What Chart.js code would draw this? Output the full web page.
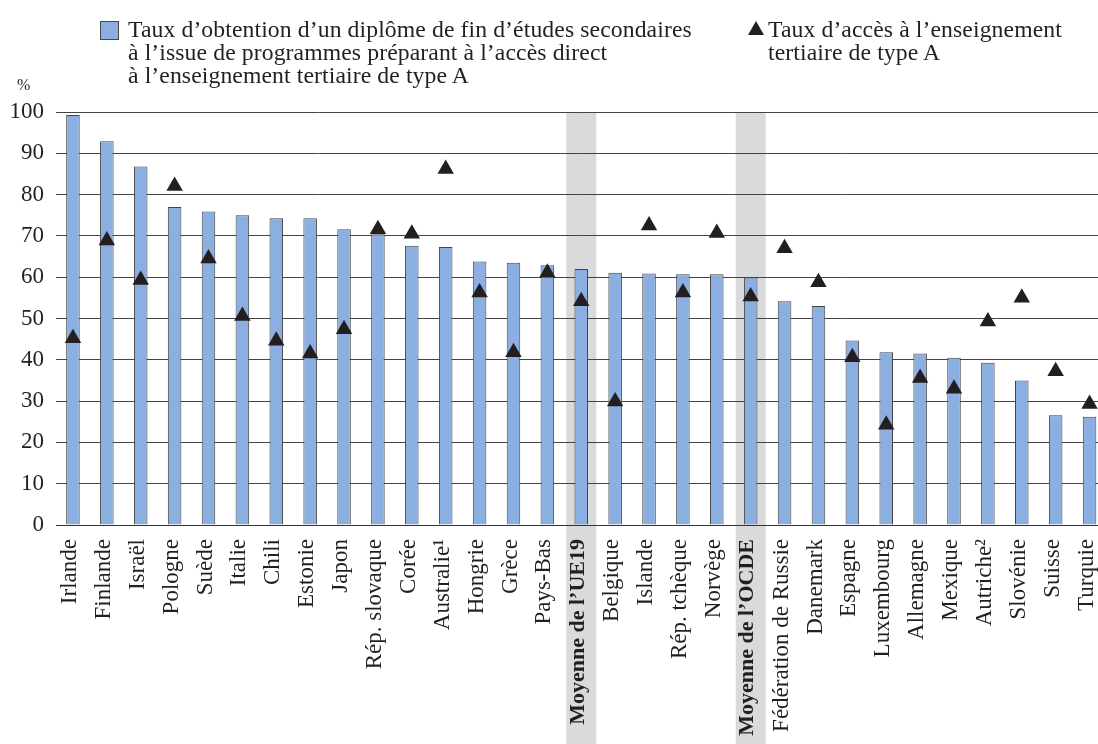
<!DOCTYPE html>
<html lang="fr">
<head>
<meta charset="utf-8">
<script src="https://cdn.jsdelivr.net/npm/chart.js@4/dist/chart.umd.min.js"></script>
<style>
  body { margin: 0; overflow: hidden; background: #fff; font-family: "Liberation Serif", serif; color: #231f20; }
  #wrap { position: relative; width: 1116px; height: 744px; }
  .legend-text { position: absolute; font-size: 23.7px; line-height: 23px; white-space: nowrap; letter-spacing: 0.1px; }
  .swatch { position: absolute; left: 100px; top: 21px; width: 17px; height: 17px; background: #8aafe0; border: 1px solid #4a4a4a; }
  .tri { position: absolute; left: 748px; top: 21px; width: 0; height: 0; border-left: 8px solid transparent; border-right: 8px solid transparent; border-bottom: 14px solid #231f20; }
  .unit { position: absolute; left: 17px; top: 76px; font-size: 16px; }
</style>
</head>
<body>
<div id="wrap">
  <canvas id="chart"></canvas>
  <div class="swatch"></div>
  <div class="legend-text" style="left:128px; top:18px;">Taux d’obtention d’un diplôme de fin d’études secondaires<br>à l’issue de programmes préparant à l’accès direct<br>à l’enseignement tertiaire de type A</div>
  <div class="tri"></div>
  <div class="legend-text" style="left:768px; top:18px;">Taux d’accès à l’enseignement<br>tertiaire de type A</div>
  <div class="unit">%</div>
</div>
<script>
const countries = ['Irlande', 'Finlande', 'Israël', 'Pologne', 'Suède', 'Italie', 'Chili', 'Estonie', 'Japon',
  'Rép. slovaque', 'Corée', 'Australie¹', 'Hongrie', 'Grèce', 'Pays-Bas', 'Moyenne de l’UE19', 'Belgique',
  'Islande', 'Rép. tchèque', 'Norvège', 'Moyenne de l’OCDE', 'Fédération de Russie', 'Danemark', 'Espagne',
  'Luxembourg', 'Allemagne', 'Mexique', 'Autriche²', 'Slovénie', 'Suisse', 'Turquie'];

const graduationRate = [99.3, 92.9, 86.8, 77.0, 75.9, 75.0, 74.3, 74.3, 71.6, 70.4, 67.6, 67.3, 63.8, 63.5, 62.9,
  62.0, 61.1, 60.9, 60.7, 60.7, 59.9, 54.2, 53.0, 44.7, 41.8, 41.5, 40.5, 39.3, 35.0, 26.6, 26.2];

const entryRate = [45.2, 68.9, 59.3, 82.1, 64.5, 50.6, 44.6, 41.5, 47.4, 71.6, 70.5, 86.2, 56.3, 41.8, 61.1,
  54.2, 29.9, 72.5, 56.3, 70.7, 55.3, 67.0, 58.8, 40.6, 24.3, 35.6, 33.0, 49.3, 55.0, 37.2, 29.3];

const averages = ['Moyenne de l’UE19', 'Moyenne de l’OCDE'];
const yTicks = [0, 10, 20, 30, 40, 50, 60, 70, 80, 90, 100];

// grey bands behind the two averages, from the top of the plot down to the page bottom
const bandPlugin = {
  id: 'bands',
  beforeDraw(chart) {
    const { ctx, chartArea, scales } = chart;
    ctx.save();
    ctx.fillStyle = '#d9dadc';
    averages.forEach(name => {
      const x = scales.x.getPixelForValue(countries.indexOf(name));
      ctx.fillRect(x - 15, chartArea.top, 30, chart.height - chartArea.top);
    });
    ctx.restore();
  }
};

new Chart(document.getElementById('chart'), {
  type: 'bar',
  data: {
    labels: countries,
    datasets: [
      {
        type: 'line',
        data: entryRate,
        showLine: false,
        pointStyle: 'triangle',
        pointRadius: 9.5,
        pointHoverRadius: 9.5,
        pointBackgroundColor: '#231f20',
        pointBorderWidth: 0,
        order: 1
      },
      {
        data: graduationRate,
        backgroundColor: '#8aafe0',
        borderColor: '#444',
        borderWidth: 1,
        barPercentage: 0.4,
        categoryPercentage: 1,
        order: 2
      }
    ]
  },
  options: {
    responsive: true,
    maintainAspectRatio: false,
    animation: false,
    layout: { padding: { top: 112, left: 0, right: 0, bottom: 0 } },
    plugins: { legend: { display: false }, tooltip: { enabled: false } },
    scales: {
      x: {
        grid: { display: false },
        border: { color: '#333' },
        afterFit(scale) {
          scale.height = 219;
          scale.paddingLeft = 0;
          scale.paddingRight = 0;
        },
        ticks: {
          autoSkip: false,
          minRotation: 90,
          maxRotation: 90,
          padding: 6,
          labelOffset: -3,
          color: '#231f20',
          font: ctx => averages.includes(countries[ctx.index])
            ? { family: 'Liberation Serif', size: 22, weight: 'bold' }
            : { family: 'Liberation Serif', size: 23, weight: 'normal' }
        }
      },
      y: {
        min: 0,
        max: 100,
        afterFit(scale) { scale.width = 56; },
        afterBuildTicks(scale) { scale.ticks = yTicks.map(v => ({ value: v })); },
        border: { display: false },
        grid: { color: '#444', lineWidth: 1, drawTicks: false },
        ticks: { padding: 12, color: '#231f20', font: { family: 'Liberation Serif', size: 23 } }
      }
    }
  },
  plugins: [bandPlugin]
});
</script>
</body>
</html>
